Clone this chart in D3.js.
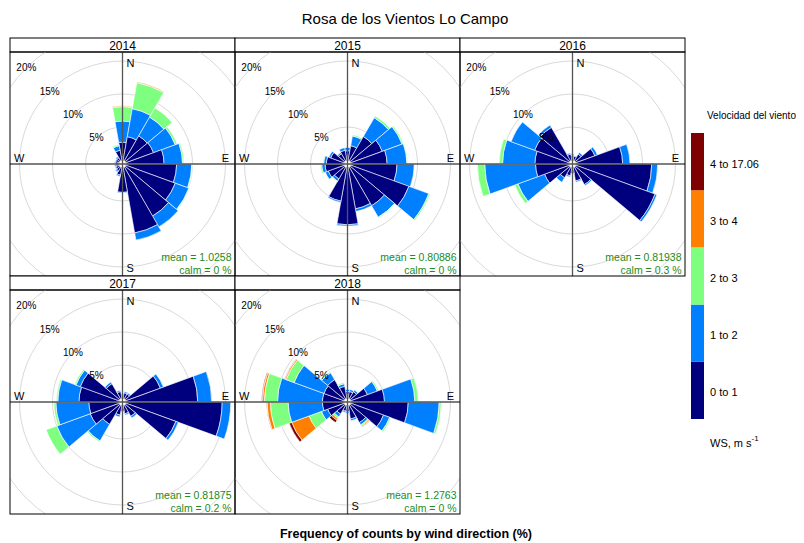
<!DOCTYPE html>
<html>
<head>
<meta charset="utf-8">
<script src="https://cdn.jsdelivr.net/npm/d3@7"></script>
<style>
  body { margin: 0; background: #fff; }
  svg { display: block; }
  text { font-family: "Liberation Sans", Arial, Helvetica, sans-serif; }
</style>
</head>
<body>
<svg id="chart" width="804" height="543"></svg>
<script>
// Wind rose data: frequency (%) per 20-degree sector, split by wind-speed bin.
const years = ["2014", "2015", "2016", "2017", "2018"];
const directions = [0, 20, 40, 60, 80, 100, 120, 140, 160, 180, 200, 220, 240, 260, 280, 300, 320, 340];
const speedBins = ["0 to 1", "1 to 2", "2 to 3", "3 to 4", "4 to 17.06"];
const ringValues = [5, 10, 15, 20];

// each row: one direction, columns = speed bins (0-1, 1-2, 2-3, 3-4, 4-17.06)
const freq2014 = [
  [2.7, 3.2, 2.2, 0.1, 0], [3.6, 4.3, 4.0, 0.1, 0], [4.3, 3.3, 1.6, 0, 0], [4.4, 3.5, 0.3, 0, 0],
  [5.7, 2.8, 0.2, 0, 0], [7.6, 2.3, 0.1, 0, 0], [7.9, 2.2, 0.1, 0, 0], [8.5, 1.9, 0, 0, 0],
  [10.0, 1.1, 0, 0, 0], [3.7, 0.1, 0, 0, 0], [1.1, 0.2, 0, 0, 0], [0.6, 0.2, 0, 0, 0],
  [0.5, 0.1, 0, 0, 0], [0.4, 0.2, 0, 0, 0], [0.5, 0.1, 0, 0, 0], [0.5, 0.1, 0, 0, 0],
  [0.5, 0.2, 0, 0, 0], [1.5, 0.7, 0.2, 0, 0]
];
const freq2015 = [
  [1.4, 0.5, 0, 0, 0], [2.2, 1.5, 0.2, 0, 0], [4.2, 3.3, 0.3, 0, 0], [5.0, 3.2, 0.2, 0, 0],
  [5.4, 3.0, 0.1, 0, 0], [6.9, 2.6, 0, 0, 0], [9.3, 3.2, 0.2, 0, 0], [6.7, 2.0, 0.1, 0, 0],
  [6.3, 0.4, 0, 0, 0], [8.6, 0.2, 0, 0, 0], [5.1, 0.2, 0, 0, 0], [2.0, 0.4, 0.1, 0, 0],
  [2.5, 0.5, 0.1, 0, 0], [2.8, 0.5, 0.2, 0, 0], [2.6, 0.4, 0.1, 0, 0], [2.1, 0.3, 0, 0, 0],
  [1.2, 0.2, 0, 0, 0], [1.5, 0.4, 0, 0, 0]
];
const freq2016 = [
  [0.7, 0.2, 0, 0, 0], [0.6, 0.1, 0, 0, 0], [1.1, 0.3, 0, 0, 0], [3.0, 0.4, 0, 0, 0],
  [7.0, 1.1, 0, 0, 0], [11.4, 0.9, 0, 0, 0], [12.7, 0.3, 0, 0, 0], [3.0, 0.2, 0, 0, 0],
  [2.0, 0.2, 0, 0, 0], [0.8, 0.1, 0, 0, 0], [1.2, 0.2, 0, 0, 0], [1.8, 0.8, 0, 0, 0],
  [3.9, 4.3, 0.5, 0, 0], [5.0, 7.7, 1.1, 0, 0], [5.1, 4.9, 0.5, 0, 0], [5.5, 3.8, 0, 0, 0],
  [5.8, 0.4, 0, 0, 0], [0.9, 0.2, 0, 0, 0]
];
const freq2017 = [
  [0.6, 0.1, 0, 0, 0], [0.8, 0.2, 0, 0, 0], [0.8, 0.2, 0, 0, 0], [5.5, 0.5, 0, 0, 0],
  [10.8, 2.1, 0, 0, 0], [14.5, 1.3, 0, 0, 0], [8.0, 0.4, 0, 0, 0], [1.9, 0.3, 0, 0, 0],
  [1.2, 0.2, 0, 0, 0], [0.8, 0.1, 0, 0, 0], [1.4, 0.3, 0, 0, 0], [3.3, 2.9, 0.2, 0, 0],
  [4.6, 5.4, 1.7, 0, 0], [4.5, 5.0, 0.3, 0, 0], [6.0, 3.2, 0.2, 0, 0], [6.2, 0.7, 0.2, 0, 0],
  [2.6, 0.3, 0, 0, 0], [1.0, 0.2, 0, 0, 0]
];
const freq2018 = [
  [1.0, 0.3, 0, 0, 0], [1.0, 0.3, 0, 0, 0], [1.2, 0.3, 0.1, 0, 0], [2.6, 1.6, 0.2, 0, 0],
  [5.0, 4.6, 0.5, 0, 0], [8.6, 4.7, 0.3, 0, 0], [5.2, 1.0, 0.2, 0, 0], [3.0, 0.4, 0.2, 0.15, 0.05],
  [2.0, 0.3, 0.1, 0, 0], [0.9, 0.2, 0, 0, 0], [0.8, 0.2, 0, 0, 0], [1.5, 0.5, 0.3, 0.3, 0.4],
  [2.6, 1.0, 2.0, 2.8, 0.4], [3.2, 5.2, 2.7, 0.5, 0.05], [3.2, 6.8, 2.0, 0.3, 0.1], [3.2, 4.8, 1.3, 0.2, 0.05],
  [3.3, 1.2, 0.2, 0, 0], [1.8, 0.4, 0.2, 0, 0]
];
const meanSpeed = ["1.0258", "0.80886", "0.81938", "0.81875", "1.2763"];
const calmPct = ["0", "0", "0.3", "0.2", "0"];

const freqByYear = [freq2014, freq2015, freq2016, freq2017, freq2018];
const binColours = ["#00007F", "#007FFF", "#7FFF7F", "#FF7F00", "#7F0000"];

// ---- layout ----
const svg = d3.select("#chart");
const panelW = 225, stripH = 14, bodyH = 224;
const panelX = [10, 235, 460, 10, 235];
const panelY = [38, 38, 38, 276, 276];
const sectorWidth = 20;

// radial scale shared by all panels (small calm hole in the middle)
const r = d3.scaleLinear().domain([0, 20]).range([4, 136]);
const arc = d3.arc();
const toRad = d => d * Math.PI / 180;

years.forEach((year, i) => {
  const g = svg.append("g").attr("transform", `translate(${panelX[i]},${panelY[i]})`);
  const cx = panelW / 2, cy = stripH + bodyH / 2;

  // strip with year
  g.append("rect").attr("x", 0).attr("y", 0).attr("width", panelW).attr("height", stripH)
    .attr("fill", "#fff").attr("stroke", "#000").attr("stroke-width", 1);
  g.append("text").attr("x", cx).attr("y", stripH / 2 + 1).attr("text-anchor", "middle")
    .attr("dominant-baseline", "central").attr("font-size", 12).text(year);

  const clipId = "clip" + year;
  g.append("clipPath").attr("id", clipId).append("rect")
    .attr("x", 0).attr("y", stripH).attr("width", panelW).attr("height", bodyH);
  const body = g.append("g").attr("clip-path", `url(#${clipId})`);
  const c = body.append("g").attr("transform", `translate(${cx},${cy})`);

  // grid rings
  c.selectAll("circle.ring").data(ringValues).join("circle").attr("class", "ring")
    .attr("r", d => r(d)).attr("fill", "none").attr("stroke", "#d9d9d9").attr("stroke-width", 1);

  // stacked sectors
  const rows = freqByYear[i];
  const segs = [];
  rows.forEach((vals, di) => {
    let cum = 0;
    vals.forEach((v, bi) => {
      if (v > 0) segs.push({ dir: directions[di], lo: cum, hi: cum + v, bin: bi });
      cum += v;
    });
  });
  c.selectAll("path.bar").data(segs).join("path").attr("class", "bar")
    .attr("d", d => arc({
      innerRadius: r(d.lo), outerRadius: r(d.hi),
      startAngle: toRad(d.dir - sectorWidth / 2), endAngle: toRad(d.dir + sectorWidth / 2)
    }))
    .attr("fill", d => binColours[d.bin])
    .attr("stroke", "#fff").attr("stroke-width", 0.6);

  // calm hole
  c.append("circle").attr("r", r(0)).attr("fill", "#fff").attr("stroke", "#999").attr("stroke-width", 0.8);

  // axes through centre
  c.append("line").attr("x1", -cx).attr("x2", cx).attr("y1", 0).attr("y2", 0)
    .attr("stroke", "#555").attr("stroke-width", 1.3);
  c.append("line").attr("x1", 0).attr("x2", 0).attr("y1", -bodyH / 2).attr("y2", bodyH / 2)
    .attr("stroke", "#555").attr("stroke-width", 1.3);

  // ring labels at NW
  c.selectAll("text.rl").data(ringValues).join("text").attr("class", "rl")
    .attr("x", d => -r(d) * Math.SQRT1_2).attr("y", d => -r(d) * Math.SQRT1_2)
    .attr("text-anchor", "middle").attr("dominant-baseline", "central")
    .attr("font-size", 10).text(d => d + "%");

  // compass labels
  const compass = [
    { t: "N", x: 4, y: -bodyH / 2 + 11, a: "start" },
    { t: "S", x: 4, y: bodyH / 2 - 8, a: "start" },
    { t: "W", x: -cx + 4, y: -6, a: "start" },
    { t: "E", x: cx - 6, y: -6, a: "end" }
  ];
  c.selectAll("text.cp").data(compass).join("text").attr("class", "cp")
    .attr("x", d => d.x).attr("y", d => d.y).attr("text-anchor", d => d.a)
    .attr("dominant-baseline", "central").attr("font-size", 11).text(d => d.t);

  // mean / calm annotation
  g.append("text").attr("x", panelW - 3.5).attr("y", stripH + bodyH - 19)
    .attr("text-anchor", "end").attr("dominant-baseline", "central")
    .attr("font-size", 10.5).attr("fill", "#228B22").text(`mean = ${meanSpeed[i]}`);
  g.append("text").attr("x", panelW - 3.5).attr("y", stripH + bodyH - 6)
    .attr("text-anchor", "end").attr("dominant-baseline", "central")
    .attr("font-size", 10.5).attr("fill", "#228B22").text(`calm = ${calmPct[i]} %`);

  // panel frame
  g.append("rect").attr("x", 0).attr("y", stripH).attr("width", panelW).attr("height", bodyH)
    .attr("fill", "none").attr("stroke", "#000").attr("stroke-width", 1);
});

// title and axis caption
svg.append("text").attr("x", 405).attr("y", 18).attr("text-anchor", "middle")
  .attr("dominant-baseline", "central").attr("font-size", 15).text("Rosa de los Vientos Lo Campo");
svg.append("text").attr("x", 406).attr("y", 534).attr("text-anchor", "middle")
  .attr("dominant-baseline", "central").attr("font-size", 12.5).attr("font-weight", "bold")
  .text("Frequency of counts by wind direction (%)");

// colour key
const key = svg.append("g");
key.append("text").attr("x", 707).attr("y", 115).attr("dominant-baseline", "central")
  .attr("font-size", 10).text("Velocidad del viento");
const keyY = d3.scaleBand().domain(speedBins.slice().reverse()).range([133, 419]);
key.selectAll("rect").data(speedBins).join("rect")
  .attr("x", 691).attr("width", 13).attr("y", d => keyY(d)).attr("height", keyY.bandwidth())
  .attr("fill", (d, j) => binColours[j]);
key.selectAll("text.kl").data(speedBins).join("text").attr("class", "kl")
  .attr("x", 710).attr("y", d => keyY(d) + keyY.bandwidth() / 2 + 2)
  .attr("dominant-baseline", "central").attr("font-size", 11).text(d => d);
const ws = key.append("text").attr("x", 710).attr("y", 443).attr("dominant-baseline", "central")
  .attr("font-size", 11);
ws.append("tspan").text("WS, m s");
ws.append("tspan").attr("font-size", 8).attr("dy", -5).text("-1");
</script>
</body>
</html>
